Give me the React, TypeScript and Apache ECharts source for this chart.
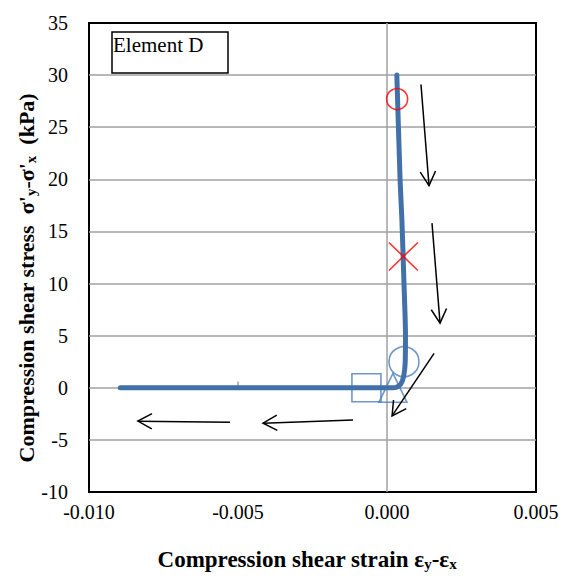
import React, { useEffect, useRef } from "react";
import * as echarts from "echarts";

// Stress-strain path (Element D)
const curveStrain = [0.00033, 0.00044, 0.0005, 0.00057, 0.00062, 0.00061, 0.00056, 0.00046, 0.00032, 0.0002, -0.00895];
const curveStress = [30, 19.9, 16.1, 10.0, 5.06, 2.4, 1.1, 0.35, 0.05, 0, 0];

// Markers [strain, stress]
const redCircle = [[0.00034, 27.7]];
const redCross = [[0.00055, 12.6]];
const blueCircle = [[0.00057, 2.5]];
const blueTriangle = [[0.0002, 0]];
const blueSquare = [[-0.00069, 0]];

// Direction arrows [x1, y1, x2, y2]
const arrows = [
  [0.00114, 29.1, 0.00141, 19.4],
  [0.00151, 15.8, 0.00178, 6.2],
  [0.00158, 3.3, 0.00017, -2.7],
  [-0.00114, -3.1, -0.00416, -3.4],
  [-0.00527, -3.3, -0.00836, -3.2],
];

const xTickMarks = [-0.005];

const xMin = -0.01, xMax = 0.005, xInterval = 0.005;
const yMin = -10, yMax = 35, yInterval = 5;

const BLUE = "#4a7ebb";
const LINE = "#4270a8";
const GRID = "#a0a0a0";
const SERIF = '"Times New Roman", "Liberation Serif", serif';

export default function App() {
  const ref = useRef<HTMLDivElement>(null);
  useEffect(() => {
    document.body.style.margin = "0";
    const chart = echarts.init(ref.current!, null, { renderer: "svg" });
    const hollow = { color: "rgba(0,0,0,0)", borderColor: BLUE, borderWidth: 1.6 };
    const subStyle = { font: `bold 15px ${SERIF}`, padding: [10, 0, 0, 0], verticalAlign: "bottom" };
    chart.setOption({
      animation: false,
      grid: { left: 89, top: 23, right: 34, bottom: 87, show: true, borderColor: "#000", borderWidth: 2, backgroundColor: "#fff", z: 0 },
      xAxis: {
        type: "value", min: xMin, max: xMax, interval: xInterval,
        axisLine: { show: false }, axisTick: { show: false },
        splitLine: { show: false },
        axisLabel: { fontFamily: SERIF, fontSize: 20, color: "#000", margin: 10, formatter: (v: number) => (Math.abs(v) < 1e-12 ? 0 : v).toFixed(3) },
      },
      yAxis: {
        type: "value", min: yMin, max: yMax, interval: yInterval,
        axisLine: { show: false }, axisTick: { show: false },
        splitLine: { show: true, showMinLine: false, showMaxLine: false, lineStyle: { color: GRID, width: 1.5 } },
        axisLabel: { fontFamily: SERIF, fontSize: 20, color: "#000", margin: 21 },
      },
      graphic: [
        { type: "rect", shape: { x: 112, y: 32, width: 116, height: 41 }, style: { fill: "#fff", stroke: "#000", lineWidth: 1.5 }, z: 100 },
        { type: "text", x: 113, y: 34, style: { text: "Element D", font: `21px ${SERIF}`, fill: "#000", textVerticalAlign: "top" }, z: 101 },
        {
          type: "text", x: 307, y: 559,
          style: {
            text: "Compression shear strain ε{sub|y}-ε{sub|x}",
            font: `bold 23px ${SERIF}`, fill: "#000", textAlign: "center", textVerticalAlign: "middle",
            rich: { sub: subStyle },
          },
        },
        {
          type: "text", x: 26, y: 278, rotation: Math.PI / 2,
          style: {
            text: "Compression shear stress  σ'{sub|y}-σ'{sub|x}  (kPa)",
            font: `bold 22px ${SERIF}`, fill: "#000", textAlign: "center", textVerticalAlign: "middle",
            rich: { sub: subStyle },
          },
        },
      ],
      series: [
        {
          type: "scatter", data: blueCircle, symbol: "circle", symbolSize: 30, itemStyle: hollow, z: 2, silent: true,
        },
        {
          type: "scatter", data: blueTriangle, symbol: "triangle", symbolSize: [28, 29], itemStyle: hollow, z: 2, silent: true,
        },
        {
          type: "scatter", data: blueSquare, symbol: "rect", symbolSize: [29, 28], itemStyle: hollow, z: 2, silent: true,
        },
        {
          type: "line", data: curveStrain.map((x, i) => [x, curveStress[i]]), showSymbol: false, smooth: 0.25,
          lineStyle: { color: LINE, width: 5, cap: "round" }, z: 3, silent: true,
          markLine: {
            silent: true, symbol: "none", label: { show: false }, z: 1,
            lineStyle: { color: GRID, width: 1.5, type: "solid" },
            data: [
              { xAxis: 0 },
              ...xTickMarks.map((t) => [{ coord: [t, 0] }, { coord: [t, 0.6] }]),
            ],
          },
        },
        {
          type: "scatter", data: redCircle, symbol: "circle", symbolSize: 21,
          itemStyle: { color: "rgba(0,0,0,0)", borderColor: "#ff0000", borderWidth: 1.6 }, z: 5, silent: true,
        },
        {
          type: "scatter", data: redCross, symbol: "path://M0,0L10,10M10,0L0,10", symbolSize: [29, 28],
          itemStyle: { color: "rgba(0,0,0,0)", borderColor: "#ff0000", borderWidth: 1.6 }, z: 5, silent: true,
        },
        {
          type: "custom", data: arrows, z: 6, silent: true,
          dimensions: ["x1", "y1", "x2", "y2"],
          encode: { x: [0, 2], y: [1, 3] },
          renderItem: (params: any, api: any) => {
            const p1 = api.coord([api.value(0), api.value(1)]);
            const p2 = api.coord([api.value(2), api.value(3)]);
            const ang = Math.atan2(p2[1] - p1[1], p2[0] - p1[0]);
            const L = 16, half = 0.5;
            const a1 = [p2[0] - L * Math.cos(ang - half), p2[1] - L * Math.sin(ang - half)];
            const a2 = [p2[0] - L * Math.cos(ang + half), p2[1] - L * Math.sin(ang + half)];
            const st = { stroke: "#000", lineWidth: 1.5, fill: null };
            return {
              type: "group",
              children: [
                { type: "line", shape: { x1: p1[0], y1: p1[1], x2: p2[0], y2: p2[1] }, style: st },
                { type: "polyline", shape: { points: [a1, p2, a2] }, style: st },
              ],
            };
          },
        },
      ],
    });
    return () => chart.dispose();
  }, []);
  return <div ref={ref} style={{ width: 570, height: 579 }} />;
}
